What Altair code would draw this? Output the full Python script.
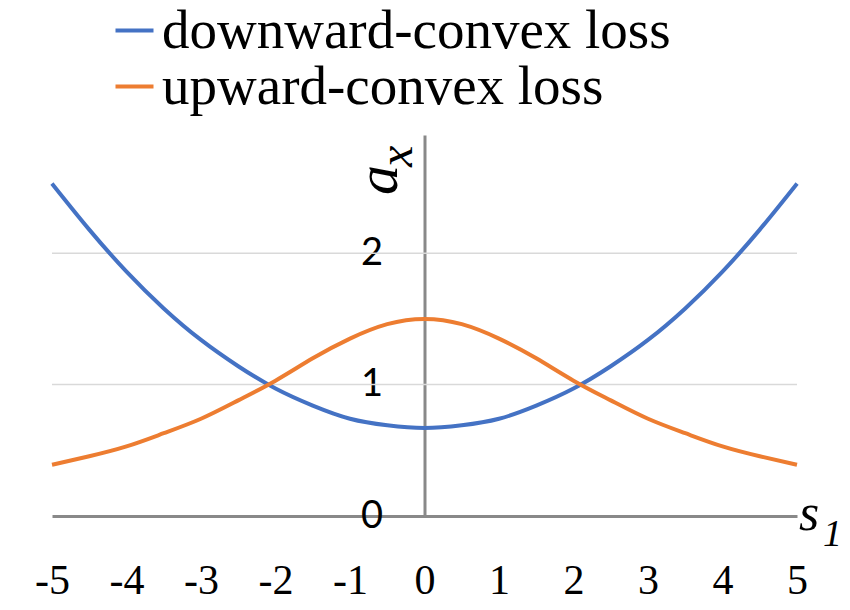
import altair as alt
import pandas as pd

# ---- data ----
s1_values = [-5, -4.5, -4, -3.5, -3, -2.5, -2, -1.5, -1, -0.5, 0,
             0.5, 1, 1.5, 2, 2.5, 3, 3.5, 4, 4.5, 5]
downward_convex = [2.53, 2.18, 1.86, 1.58, 1.34, 1.14, 0.97, 0.84, 0.74, 0.69, 0.67,
                   0.69, 0.74, 0.84, 0.97, 1.14, 1.34, 1.58, 1.86, 2.18, 2.53]
upward_convex = [0.39, 0.455, 0.53, 0.63, 0.74, 0.88, 1.03, 1.20, 1.35, 1.46, 1.50,
                 1.46, 1.35, 1.20, 1.03, 0.88, 0.74, 0.63, 0.53, 0.455, 0.39]
series_names = ["downward-convex loss", "upward-convex loss"]
series_colors = ["#4472C4", "#ED7D31"]
x_ticks = [-5, -4, -3, -2, -1, 0, 1, 2, 3, 4, 5]
y_ticks = [0, 1, 2]
grid_values = [1, 2]
x_domain = [-5, 5]
y_domain = [0, 2.9]

rows = []
for x, a, b in zip(s1_values, downward_convex, upward_convex):
    rows.append({"s1": x, "ax": a, "series": series_names[0]})
    rows.append({"s1": x, "ax": b, "series": series_names[1]})
df = pd.DataFrame(rows)

grid_df = pd.DataFrame({"ax": grid_values, "s1": [x_domain[0]] * len(grid_values),
                        "s1_end": [x_domain[1]] * len(grid_values)})

W, H = 745, 381

xscale = alt.Scale(domain=x_domain, nice=False, zero=False, padding=0)
yscale = alt.Scale(domain=y_domain, nice=False, zero=False)

x_axis = alt.Axis(values=x_ticks, title=None, grid=False, ticks=False,
                  domain=True, domainColor="#898989", domainWidth=3,
                  labelFont="Liberation Serif", labelFontSize=42,
                  labelColor="black", labelPadding=64, labelFlush=False,
                  labelBaseline="middle", labelExpr="'' + datum.value")
y_axis = alt.Axis(values=y_ticks, title=None, grid=False, ticks=False,
                  domain=True, domainColor="#898989", domainWidth=3,
                  offset=-(W / 2), labelFont="Lato", labelFontSize=38,
                  labelColor="black", labelPadding=42, labelFlush=False,
                  labelBaseline="middle")

grid = alt.Chart(grid_df).mark_rule(color="#D9D9D9", strokeWidth=1.5).encode(
    x=alt.X("s1:Q", scale=xscale, axis=x_axis),
    x2="s1_end:Q",
    y=alt.Y("ax:Q", scale=yscale, axis=y_axis),
)

lines = alt.Chart(df).mark_line(strokeWidth=4, interpolate="natural").encode(
    x=alt.X("s1:Q", scale=xscale, axis=x_axis),
    y=alt.Y("ax:Q", scale=yscale, axis=y_axis),
    color=alt.Color("series:N",
                    scale=alt.Scale(domain=series_names, range=series_colors),
                    legend=alt.Legend(orient="none", legendX=55, legendY=-132,
                                      title=None, symbolType="stroke",
                                      symbolStrokeWidth=4, symbolSize=1444,
                                      labelFont="Liberation Serif",
                                      labelFontSize=55, labelColor="black",
                                      labelOffset=0, rowPadding=-2,
                                      labelLimit=800)),
)

titles_df = pd.DataFrame({"t": ["s"]})

s_txt = alt.Chart(titles_df).mark_text(text="s", font="Liberation Serif", fontStyle="italic",
                                        fontSize=52, align="left", baseline="alphabetic").encode(
    x=alt.value(747), y=alt.value(395))
s_sub = alt.Chart(titles_df).mark_text(text="1", font="Liberation Serif", fontStyle="italic",
                                        fontSize=38, align="left", baseline="alphabetic").encode(
    x=alt.value(771), y=alt.value(411))
a_txt = alt.Chart(titles_df).mark_text(text="a", font="Liberation Serif", fontStyle="italic",
                                        fontSize=60, align="left", baseline="alphabetic",
                                        angle=270).encode(
    x=alt.value(345), y=alt.value(60))
x_sub = alt.Chart(titles_df).mark_text(text="x", font="Liberation Serif", fontStyle="italic",
                                        fontSize=48, align="left", baseline="alphabetic",
                                        angle=270).encode(
    x=alt.value(360), y=alt.value(32))

chart = alt.layer(grid, lines, s_txt, s_sub, a_txt, x_sub).properties(
    width=W, height=H,
    background="white",
    autosize=alt.AutoSizeParams(type="none"),
    padding={"left": 44, "top": 127, "right": 45, "bottom": 86},
).configure_view(stroke=None)

chart.save("out.html", embed_options={"renderer": "svg", "actions": False})
